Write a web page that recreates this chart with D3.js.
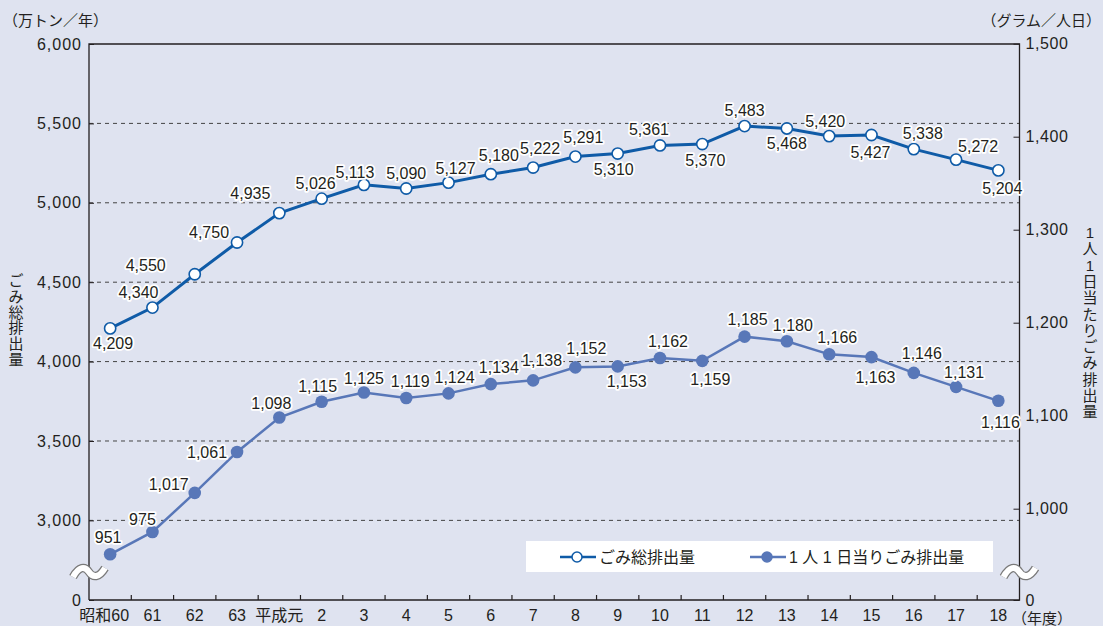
<!DOCTYPE html>
<html>
<head>
<meta charset="utf-8">
<script src="https://cdn.jsdelivr.net/npm/d3@7"></script>
<style>
  html, body { margin: 0; padding: 0; background: #dfe3f0; }
  svg { display: block; font-family: "Liberation Sans", Arial, "Noto Sans CJK JP", sans-serif; }
</style>
</head>
<body>
<svg id="chart" width="1103" height="626"></svg>
<script>
// data
const years = ['昭和60', '61', '62', '63', '平成元', '2', '3', '4', '5', '6', '7', '8', '9', '10', '11', '12', '13', '14', '15', '16', '17', '18']
// ごみ総排出量（万トン／年）
const totalWaste = [4209, 4340, 4550, 4750, 4935, 5026, 5113, 5090, 5127, 5180, 5222, 5291, 5310, 5361, 5370, 5483, 5468, 5420, 5427, 5338, 5272, 5204]
// 1人1日当たりごみ排出量（グラム／人日）
const perCapita = [951, 975, 1017, 1061, 1098, 1115, 1125, 1119, 1124, 1134, 1138, 1152, 1153, 1162, 1159, 1185, 1180, 1166, 1163, 1146, 1131, 1116]
const leftTicks = [0, 3000, 3500, 4000, 4500, 5000, 5500, 6000]
const rightTicks = [0, 1000, 1100, 1200, 1300, 1400, 1500]

// label placement [dx, baseline offset] for each point
const totalLabelPos = [[3, 21], [-14, -10], [-49, -3], [-28, -4], [-29, -14], [-6, -10], [-9, -7], [0, -10], [7, -9], [8, -13], [7, -14],
  [8, -14], [-4, 21], [-11, -10], [3, 22], [0, -10], [0, 21], [-4, -9], [-1, 23], [9, -10], [22, -8], [4, 24]]
const perLabelPos = [[-2, -11], [-10, -7], [-26, -3], [-30, 6], [-8, -9], [-4, -10], [0, -8], [4, -11], [6, -10], [8, -11], [9, -14],
  [11, -13], [9, 21], [8, -11], [8, 24], [3, -12], [6, -10], [8, -11], [4, 26], [8, -14], [8, -9], [2, 27]]

const C_TOTAL = '#0f5ba7'
const C_PER = '#5877b8'
const INK = '#231f20'

const svg = d3.select('#chart')
const L = 89, R = 1019.5, TOP = 44, BOT = 600

const x = d3.scaleBand().domain(years).range([L, R]).padding(0)
// broken axes: 0 sits on the baseline, the rest is linear above the break
const yL = d3.scaleLinear().domain([0, 2600, 6000]).range([BOT, 583.9, TOP])
const yR = d3.scaleLinear().domain([0, 920, 1500]).range([BOT, 583.1, 43.7])
const cx = d => x(d) + x.bandwidth() / 2
const fmt = d3.format(',')

// grid
svg.append('g').selectAll('line')
  .data(leftTicks.filter(v => v >= 3000 && v < 6000))
  .join('line')
  .attr('x1', L).attr('x2', R)
  .attr('y1', d => yL(d)).attr('y2', d => yL(d))
  .attr('stroke', '#444').attr('stroke-width', 1).attr('stroke-dasharray', '4,4')

// frame
svg.append('path')
  .attr('d', `M${L},${BOT}V${TOP}H${R}V${BOT}H${L}`)
  .attr('fill', 'none').attr('stroke', INK).attr('stroke-width', 1.3)

// left axis
const axL = svg.append('g').attr('transform', `translate(${L},0)`)
  .call(d3.axisLeft(yL).tickValues(leftTicks).tickSize(-5).tickPadding(7).tickFormat(fmt))
axL.select('.domain').remove()
axL.selectAll('line').attr('stroke', INK)
axL.selectAll('text').attr('font-size', 16).attr('fill', INK).attr('letter-spacing', 1)
  .attr('font-family', '"Liberation Sans", Arial, sans-serif')

// right axis
const axR = svg.append('g').attr('transform', `translate(${R},0)`)
  .call(d3.axisRight(yR).tickValues(rightTicks).tickSize(-6).tickPadding(6).tickFormat(fmt))
axR.select('.domain').remove()
axR.selectAll('line').attr('stroke', INK)
axR.selectAll('text').attr('font-size', 16).attr('fill', INK).attr('letter-spacing', 0.6)
  .attr('font-family', '"Liberation Sans", Arial, sans-serif')

// bottom ticks at band boundaries
svg.append('g').selectAll('line')
  .data(years.slice(1))
  .join('line')
  .attr('x1', d => x(d)).attr('x2', d => x(d))
  .attr('y1', BOT).attr('y2', BOT - 5)
  .attr('stroke', INK).attr('stroke-width', 1.2)

svg.append('g').selectAll('text')
  .data(years)
  .join('text')
  .attr('x', (d, i) => cx(d) + (i === 0 ? -6 : 0))
  .attr('y', 621)
  .attr('text-anchor', 'middle')
  .attr('font-size', 16)
  .attr('fill', INK)
  .text(d => d)

// axis break marks
function breakMark(x0, y0) {
  const p = `M${x0 - 16},${y0 + 5} C${x0 - 10},${y0 - 6} ${x0 - 4},${y0 - 6} ${x0},${y0} S${x0 + 10},${y0 + 6} ${x0 + 16},${y0 - 4}`
  svg.append('path').attr('d', p).attr('fill', 'none').attr('stroke', '#7a7a7a').attr('stroke-width', 8.5)
  svg.append('path').attr('d', p).attr('fill', 'none').attr('stroke', '#fff').attr('stroke-width', 6)
}
breakMark(L, 572)
breakMark(R, 572)

// lines
const lineTotal = d3.line().x((d, i) => cx(years[i])).y(d => yL(d))
const linePer = d3.line().x((d, i) => cx(years[i])).y(d => yR(d))

svg.append('path').datum(perCapita)
  .attr('d', linePer).attr('fill', 'none').attr('stroke', C_PER).attr('stroke-width', 2.5)
svg.append('g').selectAll('circle')
  .data(perCapita)
  .join('circle')
  .attr('cx', (d, i) => cx(years[i])).attr('cy', d => yR(d))
  .attr('r', 6.3).attr('fill', C_PER)

svg.append('path').datum(totalWaste)
  .attr('d', lineTotal).attr('fill', 'none').attr('stroke', C_TOTAL).attr('stroke-width', 3)
svg.append('g').selectAll('circle')
  .data(totalWaste)
  .join('circle')
  .attr('cx', (d, i) => cx(years[i])).attr('cy', d => yL(d))
  .attr('r', 5.6).attr('fill', '#fff').attr('stroke', C_TOTAL).attr('stroke-width', 1.6)

// data labels
function labels(data, yScale, pos) {
  svg.append('g').selectAll('text')
    .data(data)
    .join('text')
    .attr('x', (d, i) => cx(years[i]) + pos[i][0])
    .attr('y', (d, i) => yScale(d) + pos[i][1])
    .attr('text-anchor', 'middle')
    .attr('font-size', 16)
    .attr('fill', INK)
    .attr('stroke', '#fff').attr('stroke-width', 3.5).attr('stroke-linejoin', 'round')
    .attr('paint-order', 'stroke')
    .text(d => fmt(d))
}
labels(perCapita, yR, perLabelPos)
labels(totalWaste, yL, totalLabelPos)

// unit labels
svg.append('text').attr('x', 3).attr('y', 26).attr('font-size', 15).attr('fill', INK).text('（万トン／年）')
svg.append('text').attr('x', 1101).attr('y', 26).attr('text-anchor', 'end').attr('font-size', 15).attr('fill', INK).text('（グラム／人日）')
svg.append('text').attr('x', 1012).attr('y', 624).attr('font-size', 15).attr('fill', INK).text('（年度）')

// vertical titles
function vTitle(chars, xc, y0, step) {
  svg.append('g').selectAll('text')
    .data(chars)
    .join('text')
    .attr('x', xc).attr('y', (d, i) => y0 + i * step)
    .attr('text-anchor', 'middle')
    .attr('font-size', 15)
    .attr('fill', INK)
    .text(d => d)
}
vTitle(Array.from('ごみ総排出量'), 16, 286, 15.8)
vTitle(Array.from('1人1日当たりごみ排出量'), 1090, 238, 16.3)

// legend
const lg = svg.append('g')
lg.append('rect').attr('x', 526).attr('y', 541).attr('width', 467).attr('height', 31).attr('fill', '#fff')
const items = [
  { label: 'ごみ総排出量', color: C_TOTAL, fill: '#fff', x0: 560 },
  { label: '1 人 1 日当りごみ排出量', color: C_PER, fill: C_PER, x0: 750 }
]
items.forEach(it => {
  lg.append('line').attr('x1', it.x0).attr('x2', it.x0 + 36).attr('y1', 557).attr('y2', 557)
    .attr('stroke', it.color).attr('stroke-width', 2.5)
  lg.append('circle').attr('cx', it.x0 + 17).attr('cy', 557).attr('r', 5)
    .attr('fill', it.fill).attr('stroke', it.color).attr('stroke-width', 1.5)
  lg.append('text').attr('x', it.x0 + 39).attr('y', 563).attr('font-size', 16).attr('fill', INK)
    .text(it.label)
})
</script>
</body>
</html>
